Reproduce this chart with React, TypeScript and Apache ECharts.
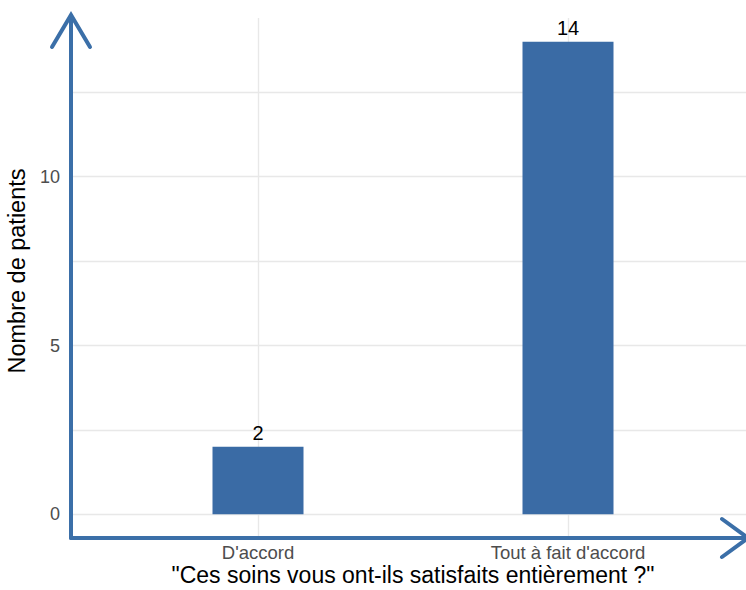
import React, { useEffect, useRef } from "react";
import * as echarts from "echarts";

const categories = ["D'accord", "Tout à fait d'accord"];
const categoryPositions = [1, 2];
const counts = [2, 14];
const yTickValues = [0, 5, 10];
const yGridValues = [0, 2.5, 5, 7.5, 10, 12.5];
const xTitle = "\"Ces soins vous ont-ils satisfaits entièrement ?\"";
const yTitle = "Nombre de patients";

const FONT = 'Helvetica, "Liberation Sans", Arial, sans-serif';
const BAR = "#3A6BA5";
const AXIS = "#3B6FA8";

export default function App() {
  const ref = useRef<HTMLDivElement>(null);
  useEffect(() => {
    document.body.style.margin = "0";
    const chart = echarts.init(ref.current!, undefined, { renderer: "svg" });
    chart.setOption({
      animation: false,
      textStyle: { fontFamily: FONT },
      grid: {
        left: 72,
        top: 18,
        width: 682,
        height: 520,
        containLabel: false,
        outerBoundsMode: "none",
      },
      xAxis: {
        type: "value",
        min: 0.4,
        max: 2.6,
        axisLine: { show: false },
        axisTick: { show: false, customValues: categoryPositions },
        splitLine: { show: false },
        axisLabel: {
          customValues: categoryPositions,
          formatter: (v: number) => categories[Math.round(v) - 1] ?? "",
          color: "#4D4D4D",
          fontSize: 18.5,
          margin: 5,
        },
        name: xTitle,
        nameLocation: "middle",
        nameMoveOverlap: false,
        nameGap: 25,
        nameTextStyle: { color: "#000", fontSize: 23, lineHeight: 24, fontFamily: FONT },
      },
      yAxis: {
        type: "value",
        min: -0.7,
        max: 14.7,
        axisLine: { show: false },
        axisTick: { show: false, customValues: yTickValues },
        splitLine: { show: false },
        axisLabel: {
          customValues: yTickValues,
          color: "#4D4D4D",
          fontSize: 18,
          margin: 12,
        },
        name: yTitle,
        nameLocation: "middle",
        nameGap: 38,
        nameRotate: 90,
        nameTextStyle: { color: "#000", fontSize: 23.5, fontFamily: FONT, padding: [0, 0, 0, 14] },
      },
      series: [
        {
          type: "line",
          data: [],
          silent: true,
          z: 1,
          markLine: {
            silent: true,
            z: 1,
            symbol: "none",
            label: { show: false },
            lineStyle: { color: "#E8E8E8", type: "solid", width: 1.4 },
            emphasis: { disabled: true },
            data: [
              ...yGridValues.map((v) => ({ yAxis: v })),
              ...categoryPositions.map((v) => ({ xAxis: v })),
            ],
          },
        },
        {
          type: "bar",
          z: 2,
          barWidth: 91,
          itemStyle: { color: BAR },
          label: {
            show: true,
            position: "top",
            distance: 4,
            color: "#000",
            fontSize: 20,
            fontFamily: FONT,
          },
          data: categoryPositions.map((p, i) => [p, counts[i]]),
        },
      ],
      graphic: [
        {
          type: "polyline",
          z: 10,
          shape: { points: [[71, 538], [71, 16]] },
          style: { stroke: AXIS, lineWidth: 4, fill: "none", lineCap: "round" },
        },
        {
          type: "polyline",
          z: 10,
          shape: { points: [[52, 47], [71, 15], [90, 47]] },
          style: { stroke: AXIS, lineWidth: 4, fill: "none", lineCap: "round", lineJoin: "miter" },
        },
        {
          type: "polyline",
          z: 10,
          shape: { points: [[71, 538], [746, 538]] },
          style: { stroke: AXIS, lineWidth: 4, fill: "none", lineCap: "round" },
        },
        {
          type: "polyline",
          z: 10,
          shape: { points: [[722, 519], [748, 538], [722, 557]] },
          style: { stroke: AXIS, lineWidth: 4, fill: "none", lineCap: "round", lineJoin: "miter" },
        },
      ],
    });
    return () => chart.dispose();
  }, []);
  return <div ref={ref} style={{ width: 746, height: 590 }} />;
}
